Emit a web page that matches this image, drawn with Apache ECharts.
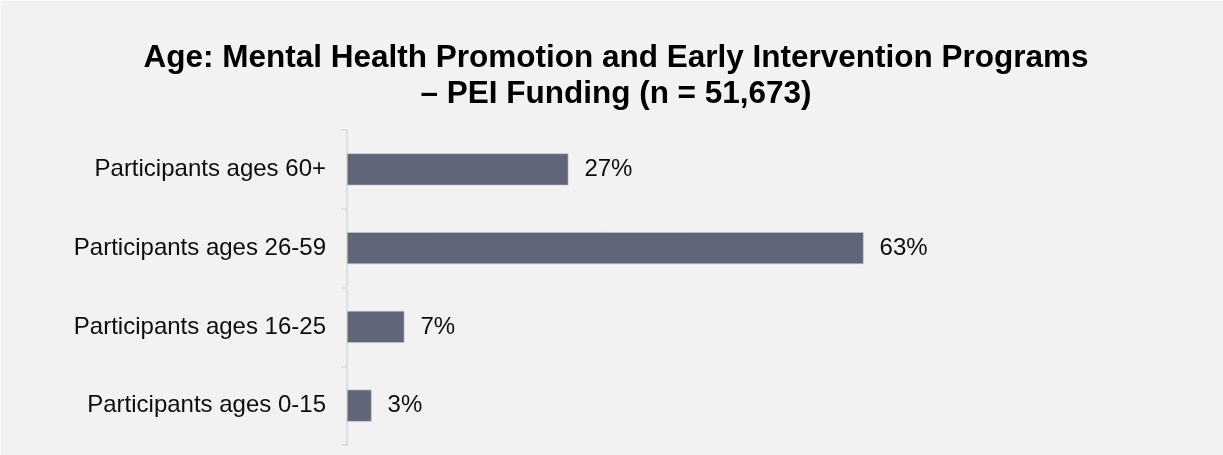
<!DOCTYPE html>
<html>
<head>
<meta charset="utf-8">
<title>Age: Mental Health Promotion and Early Intervention Programs</title>
<script src="https://cdn.jsdelivr.net/npm/echarts@6/dist/echarts.min.js"></script>
<style>
  html, body { margin: 0; padding: 0; background: #fafafa; }
  #chart { position: absolute; left: 1px; top: 1px; width: 1222px; height: 454px; }
</style>
</head>
<body>
<div id="chart"></div>
<script>
// Age groups, listed bottom to top as the category axis draws them
const categories = [
  'Participants ages 0-15',
  'Participants ages 16-25',
  'Participants ages 26-59',
  'Participants ages 60+'
];
// Share of participants in each age group (%)
const shares = [3, 7, 63, 27];

const titleLines = [
  'Age: Mental Health Promotion and Early Intervention Programs',
  '– PEI Funding (n = 51,673)'
];

const chart = echarts.init(document.getElementById('chart'), null, { renderer: 'canvas' });

chart.setOption({
  backgroundColor: '#f2f2f2',
  animation: false,
  textStyle: { fontFamily: '"Liberation Sans", Arial, sans-serif' },
  title: {
    text: titleLines.join('\n'),
    left: 615,
    top: 39,
    padding: 0,
    textAlign: 'center',
    textStyle: {
      fontFamily: '"Liberation Sans", Arial, sans-serif',
      fontSize: 31.5,
      fontWeight: 'bold',
      lineHeight: 36,
      color: '#000000'
    }
  },
  grid: {
    left: 346,
    right: 56,
    top: 129,
    bottom: 10,
    containLabel: false
  },
  xAxis: {
    type: 'value',
    min: 0,
    max: 100,
    show: false
  },
  yAxis: {
    type: 'category',
    data: categories,
    axisLine: { show: true, lineStyle: { color: '#d9d9d9', width: 1.5 } },
    axisTick: { show: true, length: 6, lineStyle: { color: '#d9d9d9', width: 1.5 } },
    axisLabel: {
      margin: 21,
      fontSize: 24,
      color: '#0d0d0d',
      fontFamily: '"Liberation Sans", Arial, sans-serif'
    },
    splitLine: { show: false }
  },
  series: [{
    type: 'bar',
    data: shares,
    barWidth: 32,
    itemStyle: {
      color: '#606578',
      borderColor: '#c9cbd3',
      borderWidth: 0.6
    },
    label: {
      show: true,
      position: 'right',
      distance: 16,
      formatter: p => p.value + '%',
      fontSize: 24,
      color: '#0d0d0d',
      fontFamily: '"Liberation Sans", Arial, sans-serif'
    }
  }]
});
</script>
</body>
</html>
